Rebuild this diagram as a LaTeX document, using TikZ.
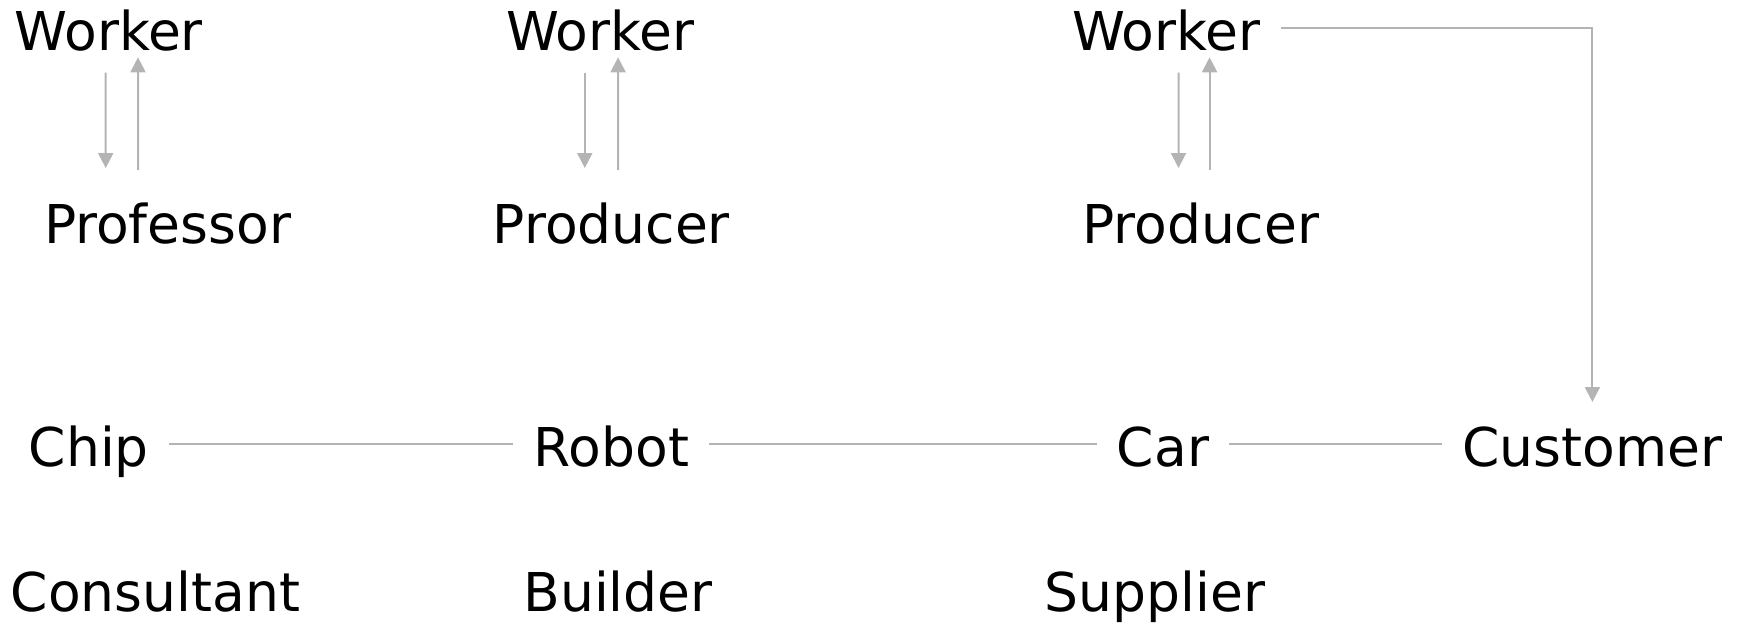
\documentclass[tikz,border=0pt]{standalone}
\usepackage{fontspec}
\setmainfont{DejaVu Sans}
\usepackage{tikz}
\usetikzlibrary{arrows.meta}
\definecolor{linkgray}{HTML}{B4B4B4}
\tikzset{
  lbl/.style={anchor=base,inner xsep=10pt,inner ysep=0pt,
    font=\fontsize{26.75}{32}\selectfont},
  link/.style={draw=linkgray,line width=1pt},
  tip/.style={-{Triangle[length=7.5pt,width=7.5pt]}}
}
\begin{document}
\begin{tikzpicture}[x=0.5pt,y=-0.5pt]
        \useasboundingbox (0,0) rectangle (1740,622);
        % top row
        \node[lbl] (w1) at (108.7,50) {Worker};
        \node[lbl] (w2) at (600.3,50) {Worker};
        \node[lbl] (w3) at (1166.3,50) {Worker};
        \node[lbl] (pr1) at (167.6,243) {Professor};
        \node[lbl] (pd2) at (611.4,243) {Producer};
        \node[lbl] (pd3) at (1200.7,243) {Producer};
        % chain
        \node[lbl] (ch) at (88.8,466) {Chip};
        \node[lbl] (rb) at (611.4,466) {Robot};
        \node[lbl] (car) at (1163,466) {Car};
        \node[lbl] (cu) at (1592.4,466) {Customer};
        \node[lbl] (cs) at (155.4,611) {Consultant};
        \node[lbl] (bd) at (618,611) {Builder};
        \node[lbl] (sp) at (1155,611) {Supplier};
        % worker <-> producer arrows
        \draw[link,tip] ([xshift=-1.5pt,yshift=-11.35pt]w1.base) -- ([xshift=-30.95pt,yshift=37.5pt]pr1.base);
        \draw[link,tip] ([xshift=-14.8pt,yshift=36.5pt]pr1.base) -- ([xshift=14.65pt,yshift=-3.65pt]w1.base);
        \draw[link,tip] ([xshift=-7.75pt,yshift=-11.35pt]w2.base) -- ([xshift=-13.3pt,yshift=37.5pt]pd2.base);
        \draw[link,tip] ([xshift=3.35pt,yshift=36.5pt]pd2.base) -- ([xshift=8.9pt,yshift=-3.65pt]w2.base);
        \draw[link,tip] ([xshift=6.1pt,yshift=-11.35pt]w3.base) -- ([xshift=-11.1pt,yshift=37.5pt]pd3.base);
        \draw[link,tip] ([xshift=4.45pt,yshift=36.5pt]pd3.base) -- ([xshift=21.65pt,yshift=-3.65pt]w3.base);
        \draw[link,tip] ([yshift=11pt]w3.base east) -| ([yshift=32pt]cu.base);
        % lines between the chain
        \draw[link] ([yshift=11pt]ch.base east) -- ([yshift=11pt]rb.base west);
        \draw[link] ([yshift=11pt]rb.base east) -- ([yshift=11pt]car.base west);
        \draw[link] ([yshift=11pt]car.base east) -- ([yshift=11pt]cu.base west);
\end{tikzpicture}
\end{document}
